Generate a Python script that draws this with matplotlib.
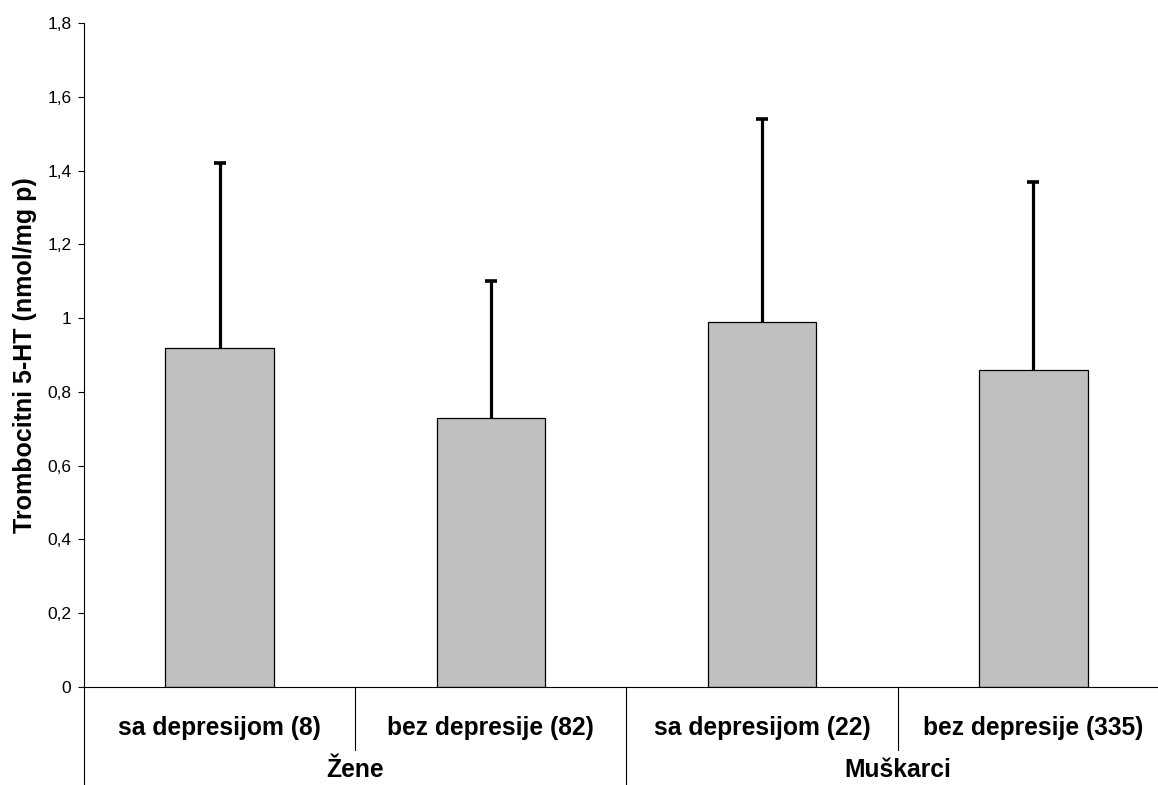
import matplotlib
matplotlib.use("Agg")
import matplotlib.pyplot as plt
import matplotlib.transforms as mtransforms
import numpy as np

categories = ["sa depresijom (8)", "bez depresije (82)", "sa depresijom (22)", "bez depresije (335)"]
groups = ["Žene", "Muškarci"]
means = [0.92, 0.73, 0.99, 0.86]
errors = [0.50, 0.37, 0.55, 0.51]
yticks = [0, 0.2, 0.4, 0.6, 0.8, 1.0, 1.2, 1.4, 1.6, 1.8]
ytick_labels = ["0", "0,2", "0,4", "0,6", "0,8", "1", "1,2", "1,4", "1,6", "1,8"]
ylabel = "Trombocitni 5-HT (nmol/mg p)"

plt.rcParams['font.family'] = ['Liberation Sans', 'DejaVu Sans']

W, H = 1158, 785
fig = plt.figure(figsize=(W / 100, H / 100), dpi=100)
ax_left, ax_right, ax_bottom, ax_top = 84, 1169, 687, 23
ax = fig.add_axes([ax_left / W, (H - ax_bottom) / H, (ax_right - ax_left) / W, (ax_bottom - ax_top) / H])

x = np.arange(len(categories))
ax.bar(x, means, width=0.40, color="#C0C0C0", edgecolor="black", linewidth=0.9, zorder=2)
tops = np.array(means) + np.array(errors)
ax.vlines(x, means, tops, colors="black", linewidth=2.3, zorder=3)
ax.plot(x, tops, linestyle="none", marker="_", markersize=9, markeredgewidth=2.6, color="black", zorder=3)

ax.set_xlim(-0.5, len(categories) - 0.5)
ax.set_ylim(0, 1.8)
ax.set_yticks(yticks)
ax.set_yticklabels(ytick_labels, fontsize=12.5)
ax.tick_params(axis="y", direction="out", length=4, width=0.8, pad=5)
ax.set_xticks([])
for s in ["top", "right"]:
    ax.spines[s].set_visible(False)
ax.spines["left"].set_linewidth(0.8)
ax.spines["bottom"].set_linewidth(0.8)

ax.set_ylabel(ylabel, fontsize=18, fontweight="bold")
ax.yaxis.set_label_coords((37 - ax_left) / (ax_right - ax_left), 0.5)

trans = mtransforms.blended_transform_factory(ax.transData, ax.transAxes)
axh = ax_bottom - ax_top
# dividers
for b in [0.5, 2.5]:
    ax.plot([b, b], [0, -63 / axh], transform=trans, color="black", linewidth=0.8, clip_on=False)
for b in [-0.5, 1.5]:
    ax.plot([b, b], [0, -98 / axh], transform=trans, color="black", linewidth=0.8, clip_on=False)

for i, c in enumerate(categories):
    ax.text(i, -41 / axh, c, transform=trans, ha="center", va="center", fontsize=17.7, fontweight="bold")
for g, name in enumerate(groups):
    ax.text(2 * g + 0.5, -83 / axh, name, transform=trans, ha="center", va="center", fontsize=17.7, fontweight="bold")

fig.savefig("out.png", dpi=100)
